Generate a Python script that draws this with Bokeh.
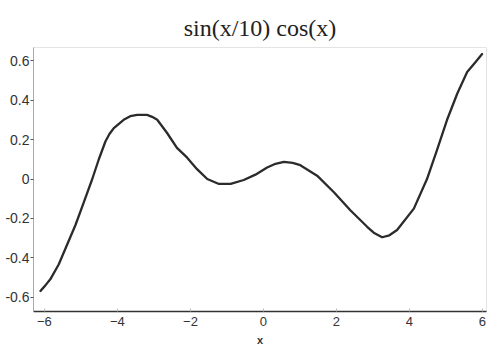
from bokeh.plotting import figure
from bokeh.models import Range1d, FixedTicker, Title
from bokeh.embed import file_html
from bokeh.resources import INLINE

# Values
x_vals = [-6.11, -5.98, -5.84, -5.61, -5.38, -5.15, -4.92, -4.69, -4.51, -4.33,
          -4.22, -4.10, -3.83, -3.65, -3.46, -3.19, -3.05, -2.91, -2.64, -2.37,
          -2.09, -1.82, -1.54, -1.22, -0.90, -0.54, -0.22, 0.10, 0.33, 0.56,
          0.80, 1.01, 1.47, 1.93, 2.38, 2.84, 3.02, 3.25, 3.45, 3.66,
          4.12, 4.48, 4.76, 5.03, 5.31, 5.58, 5.80, 5.99]
y_vals = [-0.567, -0.540, -0.508, -0.433, -0.333, -0.233, -0.117, 0.000, 0.100, 0.190,
          0.228, 0.258, 0.300, 0.318, 0.325, 0.325, 0.315, 0.300, 0.233, 0.158,
          0.108, 0.050, 0.000, -0.025, -0.025, -0.005, 0.022, 0.058, 0.077, 0.087,
          0.082, 0.070, 0.017, -0.067, -0.158, -0.242, -0.272, -0.295, -0.285, -0.258,
          -0.150, 0.000, 0.150, 0.300, 0.433, 0.542, 0.590, 0.633]
x_ticks = [-6, -4, -2, 0, 2, 4, 6]
y_ticks = [-0.6, -0.4, -0.2, 0, 0.2, 0.4, 0.6]
y_tick_labels = {-0.6: "-0.6", -0.4: "-0.4", -0.2: "-0.2", 0: "0", 0.2: "0.2", 0.4: "0.4", 0.6: "0.6"}
title_text = "sin(x/10) cos(x)"
x_label = "x"

p = figure(width=488, height=348, output_backend="svg", toolbar_location=None,
           x_range=Range1d(-6.30, 6.11), y_range=Range1d(-0.671, 0.666),
           min_border_left=33, min_border_right=2, min_border_top=47, min_border_bottom=36)

t = Title(text=title_text, align="center", vertical_align="top", text_font="Liberation Serif",
          text_font_size="24px", text_font_style="normal", text_color="#222222",
          offset=-3, standoff=10)
p.add_layout(t, "above")

p.line(x_vals, y_vals, line_color="#2b2b2b", line_width=2.3, line_join="round", line_cap="round")

p.xgrid.visible = False
p.ygrid.visible = False
p.background_fill_color = "white"
p.border_fill_color = "white"
p.outline_line_color = "#e4e4e4"

xa = p.xaxis[0]
xa.ticker = FixedTicker(ticks=x_ticks)
xa.axis_line_color = "#333333"
xa.axis_line_width = 1.5
xa.major_tick_in = 3
xa.major_tick_out = 0
xa.major_tick_line_color = "#bbbbbb"
xa.minor_tick_line_color = None
xa.major_label_text_font = "Liberation Sans"
xa.major_label_text_font_size = "13px"
xa.major_label_text_color = "#333333"
xa.major_label_standoff = 5
xa.axis_label = x_label
xa.axis_label_text_font = "Liberation Sans"
xa.axis_label_text_font_size = "11px"
xa.axis_label_text_font_style = "bold"
xa.axis_label_text_color = "#333333"
xa.axis_label_standoff = 5

ya = p.yaxis[0]
ya.ticker = FixedTicker(ticks=y_ticks)
ya.major_label_overrides = y_tick_labels
ya.axis_line_color = "#aaaaaa"
ya.axis_line_width = 1
ya.major_tick_in = 0
ya.major_tick_out = 3
ya.major_tick_line_color = "#555555"
ya.minor_tick_line_color = None
ya.major_label_text_font = "Liberation Sans"
ya.major_label_text_font_size = "14px"
ya.major_label_text_color = "#333333"
ya.major_label_standoff = 1

open("out.html", "w").write(file_html(p, INLINE))
